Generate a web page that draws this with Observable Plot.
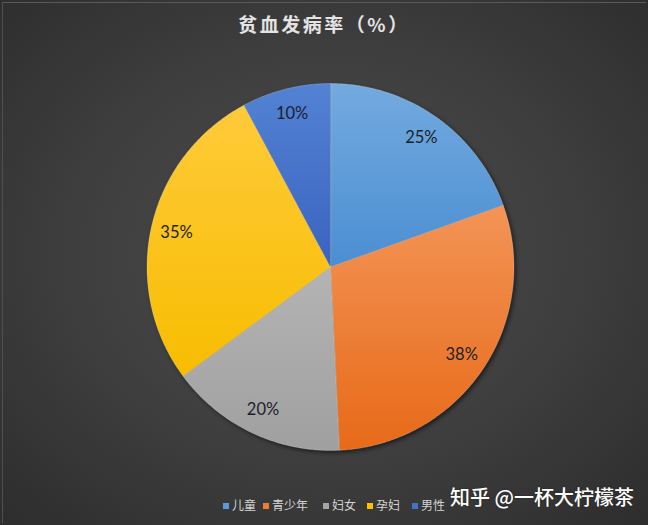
<!DOCTYPE html>
<html><head><meta charset="utf-8">
<script src="https://cdn.jsdelivr.net/npm/d3@7"></script>
<script src="https://cdn.jsdelivr.net/npm/@observablehq/plot@0.6"></script>
<style>
html,body{margin:0;padding:0;background:#333;}
#wrap{position:relative;width:648px;height:525px;overflow:hidden;
  background:radial-gradient(ellipse 70% 70% at 50% 48%, #4a4a4a 0%, #404040 50%, #2e2e2e 100%);
  font-family:"Noto Sans CJK SC","Noto Sans",sans-serif;}
#wrap::before{content:"";position:absolute;left:2px;top:2px;right:2px;bottom:2px;border-top:1px solid #5a5a5a;border-left:1px solid #505050;pointer-events:none;}
#title{position:absolute;top:10px;left:0;width:648px;text-align:center;color:#e4e4e4;font-size:19px;font-weight:700;letter-spacing:2.5px;line-height:28px;}
#chart{position:absolute;left:0;top:0;}
#chart svg g[aria-label="line"]{filter:drop-shadow(2px 2px 2px rgba(0,0,0,0.55));}
.leg{position:absolute;top:497px;color:#d4d4d4;font-size:12px;line-height:16px;white-space:nowrap;}
.leg i{display:inline-block;width:6px;height:6px;margin-right:3px;vertical-align:1px;}
#mark{position:absolute;left:450px;top:483px;color:#fff;font-size:20px;line-height:28px;font-weight:500;white-space:nowrap;text-shadow:0 0 2px rgba(0,0,0,0.4);}
</style>
</head><body>
<div id="wrap">
  <div id="title">贫血发病率（%）</div>
  <div id="chart"></div>
  <div id="legend"></div>
  <div id="mark">知乎 @一杯大柠檬茶</div>
</div>
<script>
const categories = ["儿童", "青少年", "妇女", "孕妇", "男性"];
const values = [25, 38, 20, 35, 10];
const labels = ["25%", "38%", "20%", "35%", "10%"];

const topColors = ["#73aadf", "#f39457", "#b4b4b4", "#ffca3a", "#5382d3"];
const bottomColors = ["#4b8ed2", "#e76a18", "#a0a0a0", "#f7bd00", "#3a63bf"];
const legendColors = ["#5b9bd5", "#ed7d31", "#a5a5a5", "#ffc000", "#4472c4"];
const legendX = [223, 263, 323, 367, 412];

const arcs = d3.pie().sort(null).value(d => d)(values);
const points = [];
arcs.forEach((a, i) => {
  const fill = `url(#slice${i})`;
  points.push({x: 0, y: 0, name: categories[i], fill});
  const n = Math.max(8, Math.ceil((a.endAngle - a.startAngle) / 0.01));
  for (let k = 0; k <= n; k++) {
    const t = a.startAngle + (a.endAngle - a.startAngle) * k / n;
    points.push({x: Math.sin(t), y: Math.cos(t), name: categories[i], fill});
  }
});
const labelData = arcs.map((a, i) => {
  const m = (a.startAngle + a.endAngle) / 2;
  return {x: 0.86 * Math.sin(m), y: 0.86 * Math.cos(m), text: labels[i]};
});

const defs = () => {
  const d = d3.create("svg:defs");
  topColors.forEach((c, i) => {
    const g = d.append("linearGradient").attr("id", `slice${i}`)
      .attr("x1", 0).attr("y1", 0).attr("x2", 0).attr("y2", 1);
    g.append("stop").attr("offset", "0%").attr("stop-color", c);
    g.append("stop").attr("offset", "100%").attr("stop-color", bottomColors[i]);
  });
  return d.node();
};

const plot = Plot.plot({
  width: 648, height: 525,
  marginLeft: 146.5, marginRight: 134.5, marginTop: 83, marginBottom: 75,
  x: {domain: [-1, 1], axis: null},
  y: {domain: [-1, 1], axis: null},
  color: {type: "identity"},
  style: {background: "transparent", overflow: "visible"},
  marks: [
    defs,
    Plot.line(points, {x: "x", y: "y", z: "name", fill: "fill", stroke: "rgba(255,255,255,0.22)", strokeWidth: 1, curve: "linear-closed"}),
    Plot.text(labelData, {x: "x", y: "y", text: "text", fontSize: 16.5, fill: "#1b1f2b", fontFamily: "Lato, 'Open Sans', sans-serif"})
  ]
});
document.getElementById("chart").appendChild(plot);

const legend = document.getElementById("legend");
categories.forEach((c, i) => {
  const el = document.createElement("div");
  el.className = "leg";
  el.style.left = legendX[i] + "px";
  el.innerHTML = `<i style="background:${legendColors[i]}"></i>${c}`;
  legend.appendChild(el);
});
</script>
</body></html>
